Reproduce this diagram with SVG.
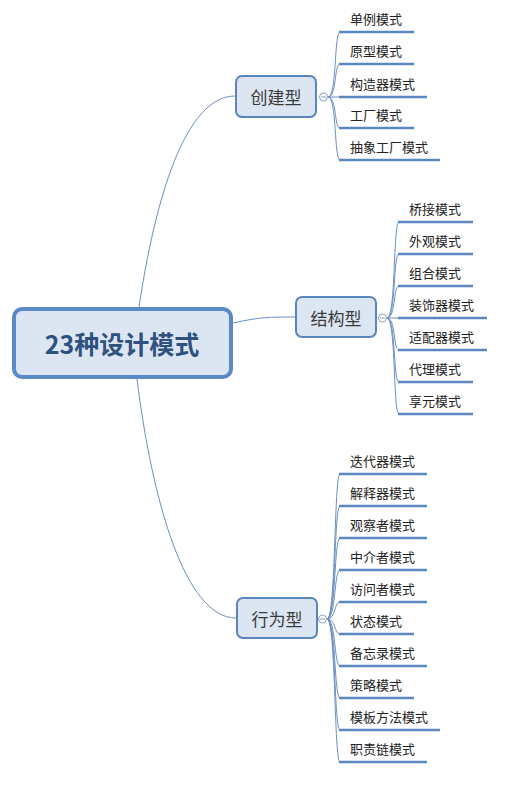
<svg xmlns="http://www.w3.org/2000/svg" width="513" height="787" viewBox="0 0 513 787">
<style>
.bg{fill:#ffffff}
.conn{fill:none;stroke:#6a8fc2;stroke-width:1}
.leafline{stroke:#5b87bf;stroke-width:2.5;stroke-linecap:butt}
.root rect{fill:#dce6f2;stroke:#5a8ac6;stroke-width:4}
.root text{font-family:"Noto Sans CJK SC","Noto Sans",sans-serif;font-size:25px;font-weight:bold;fill:#2f5180;text-anchor:middle;dominant-baseline:central}
.branch rect{fill:#dce6f2;stroke:#5a86be;stroke-width:2}
.branch text{font-family:"Noto Sans CJK SC","Noto Sans",sans-serif;font-size:17px;fill:#3a3a3a;text-anchor:middle;dominant-baseline:central}
.fold circle{fill:#ffffff;stroke:#8a9fb8;stroke-width:1}
.fold line{stroke:#8a9fb8;stroke-width:1}
.leaf text{font-family:"Noto Sans CJK SC","Noto Sans",sans-serif;font-size:13px;fill:#222222}
</style>
<rect class="bg" x="0" y="0" width="513" height="787"/>
<g id="connectors">
  <path class="conn" d="M139 307 C155 200 185 96 235 96"/>
  <path class="conn" d="M233 323 C260 317 270 317 295 317"/>
  <path class="conn" d="M137 379 C152 500 185 618 236 618"/>
  <!-- creation hub -->
  <path class="conn" d="M328 97 C337 97 334 32 340 32"/>
  <path class="conn" d="M328 97 C337 97 334 64 340 64"/>
  <path class="conn" d="M328 97 L340 97"/>
  <path class="conn" d="M328 97 C337 97 334 128 340 128"/>
  <path class="conn" d="M328 97 C337 97 334 160 340 160"/>
  <!-- structural hub -->
  <path class="conn" d="M387 318 C396 318 393 222 399 222"/>
  <path class="conn" d="M387 318 C396 318 393 254 399 254"/>
  <path class="conn" d="M387 318 C396 318 393 286 399 286"/>
  <path class="conn" d="M387 318 L399 318"/>
  <path class="conn" d="M387 318 C396 318 393 350 399 350"/>
  <path class="conn" d="M387 318 C396 318 393 382 399 382"/>
  <path class="conn" d="M387 318 C396 318 393 414 399 414"/>
  <!-- behavior hub -->
  <path class="conn" d="M327 619 C336 619 334 474 340 474"/>
  <path class="conn" d="M327 619 C336 619 334 506 340 506"/>
  <path class="conn" d="M327 619 C336 619 334 538 340 538"/>
  <path class="conn" d="M327 619 C336 619 334 570 340 570"/>
  <path class="conn" d="M327 619 C336 619 334 602 340 602"/>
  <path class="conn" d="M327 619 C336 619 334 634 340 634"/>
  <path class="conn" d="M327 619 C336 619 334 666 340 666"/>
  <path class="conn" d="M327 619 C336 619 334 698 340 698"/>
  <path class="conn" d="M327 619 C336 619 334 730 340 730"/>
  <path class="conn" d="M327 619 C336 619 334 762 340 762"/>
</g>
<g id="root" class="root">
  <rect x="14" y="309" width="217" height="68" rx="8"/>
  <text x="122" y="343">23种设计模式</text>
</g>
<g id="creational" class="branch">
  <rect x="236" y="76" width="80" height="41" rx="6"/>
  <text x="276" y="96">创建型</text>
</g>
<g id="structural" class="branch">
  <rect x="296" y="297" width="80" height="40" rx="6"/>
  <text x="336" y="317">结构型</text>
</g>
<g id="behavioral" class="branch">
  <rect x="237" y="598" width="80" height="40" rx="6"/>
  <text x="277" y="618">行为型</text>
</g>
<g id="fold-creational" class="fold"><circle cx="323.5" cy="97" r="4"/><line x1="321" y1="97" x2="326" y2="97"/></g>
<g id="fold-structural" class="fold"><circle cx="382.5" cy="318" r="4"/><line x1="380" y1="318" x2="385" y2="318"/></g>
<g id="fold-behavioral" class="fold"><circle cx="322.5" cy="619" r="4"/><line x1="320" y1="619" x2="325" y2="619"/></g>
<!-- creational leaves -->
<g id="leaf-singleton" class="leaf"><line class="leafline" x1="339" y1="32" x2="414" y2="32"/><text x="350" y="24">单例模式</text></g>
<g id="leaf-prototype" class="leaf"><line class="leafline" x1="339" y1="64" x2="414" y2="64"/><text x="350" y="56">原型模式</text></g>
<g id="leaf-builder" class="leaf"><line class="leafline" x1="339" y1="97" x2="427" y2="97"/><text x="350" y="89">构造器模式</text></g>
<g id="leaf-factory" class="leaf"><line class="leafline" x1="339" y1="128" x2="414" y2="128"/><text x="350" y="120">工厂模式</text></g>
<g id="leaf-abstract-factory" class="leaf"><line class="leafline" x1="339" y1="160" x2="440" y2="160"/><text x="350" y="152">抽象工厂模式</text></g>
<!-- structural leaves -->
<g id="leaf-bridge" class="leaf"><line class="leafline" x1="398" y1="222" x2="473" y2="222"/><text x="409" y="214">桥接模式</text></g>
<g id="leaf-facade" class="leaf"><line class="leafline" x1="398" y1="254" x2="473" y2="254"/><text x="409" y="246">外观模式</text></g>
<g id="leaf-composite" class="leaf"><line class="leafline" x1="398" y1="286" x2="473" y2="286"/><text x="409" y="278">组合模式</text></g>
<g id="leaf-decorator" class="leaf"><line class="leafline" x1="398" y1="318" x2="487" y2="318"/><text x="409" y="310">装饰器模式</text></g>
<g id="leaf-adapter" class="leaf"><line class="leafline" x1="398" y1="350" x2="487" y2="350"/><text x="409" y="342">适配器模式</text></g>
<g id="leaf-proxy" class="leaf"><line class="leafline" x1="398" y1="382" x2="473" y2="382"/><text x="409" y="374">代理模式</text></g>
<g id="leaf-flyweight" class="leaf"><line class="leafline" x1="398" y1="414" x2="473" y2="414"/><text x="409" y="406">享元模式</text></g>
<!-- behavioral leaves -->
<g id="leaf-iterator" class="leaf"><line class="leafline" x1="339" y1="474" x2="427" y2="474"/><text x="350" y="466">迭代器模式</text></g>
<g id="leaf-interpreter" class="leaf"><line class="leafline" x1="339" y1="506" x2="427" y2="506"/><text x="350" y="498">解释器模式</text></g>
<g id="leaf-observer" class="leaf"><line class="leafline" x1="339" y1="538" x2="427" y2="538"/><text x="350" y="530">观察者模式</text></g>
<g id="leaf-mediator" class="leaf"><line class="leafline" x1="339" y1="570" x2="427" y2="570"/><text x="350" y="562">中介者模式</text></g>
<g id="leaf-visitor" class="leaf"><line class="leafline" x1="339" y1="602" x2="427" y2="602"/><text x="350" y="594">访问者模式</text></g>
<g id="leaf-state" class="leaf"><line class="leafline" x1="339" y1="634" x2="414" y2="634"/><text x="350" y="626">状态模式</text></g>
<g id="leaf-memento" class="leaf"><line class="leafline" x1="339" y1="666" x2="427" y2="666"/><text x="350" y="658">备忘录模式</text></g>
<g id="leaf-strategy" class="leaf"><line class="leafline" x1="339" y1="698" x2="414" y2="698"/><text x="350" y="690">策略模式</text></g>
<g id="leaf-template" class="leaf"><line class="leafline" x1="339" y1="730" x2="440" y2="730"/><text x="350" y="722">模板方法模式</text></g>
<g id="leaf-chain" class="leaf"><line class="leafline" x1="339" y1="762" x2="427" y2="762"/><text x="350" y="754">职责链模式</text></g>
</svg>
